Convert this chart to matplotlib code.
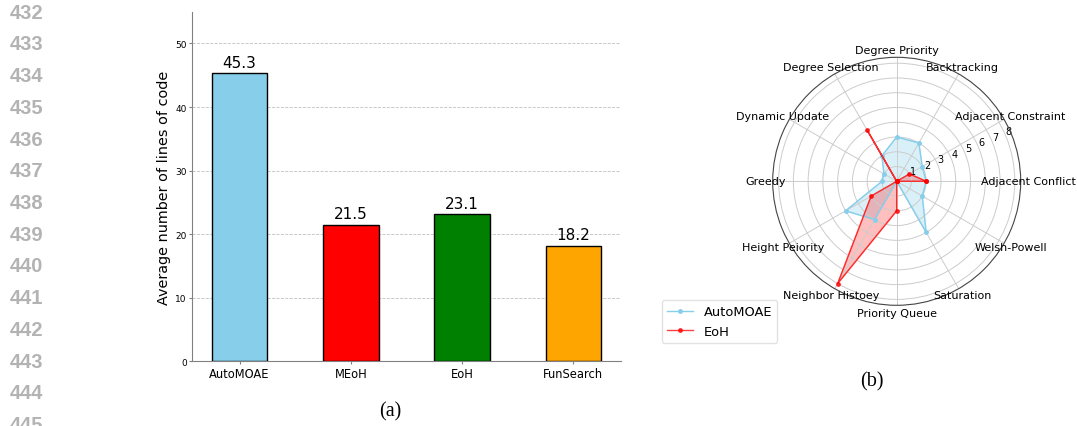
import numpy as np
import matplotlib
matplotlib.use("Agg")
import matplotlib.pyplot as plt

# ---- data -------------------------------------------------------------
methods = ["AutoMOAE", "MEoH", "EoH", "FunSearch"]
avg_lines = [45.3, 21.5, 23.1, 18.2]
bar_colors = ["skyblue", "red", "green", "orange"]

strategies = ["Adjacent Conflict", "Adjacent Constraint", "Backtracking",
              "Degree Priority", "Degree Selection", "Dynamic Update",
              "Greedy", "Height Peiority", "Neighbor Histoey",
              "Priority Queue", "Saturation", "Welsh-Powell"]
automoae_counts = [2, 2, 3, 3, 2, 1, 1, 4, 3, 0, 4, 2]
eoh_counts = [2, 1, 0, 0, 4, 0, 0, 2, 8, 2, 0, 0]

line_numbers = list(range(432, 446))

# ---- figure -----------------------------------------------------------
W, H = 1077, 427
fig = plt.figure(figsize=(W / 100, H / 100), dpi=100)

# page line numbers in the margin
for i, n in enumerate(line_numbers):
    y = 13.3 + i * 31.7
    fig.text(10 / W, 1 - y / H, str(n), ha="left", va="center",
             fontsize=14.5, fontweight="bold", color="#b3b3b3",
             family="Liberation Sans")

# ---- (a) bar chart ----------------------------------------------------
ax = fig.add_axes([192.3 / W, 1 - 362.3 / H, (620.7 - 192.3) / W,
                   (362.3 - 12.7) / H])
x = np.arange(len(methods))
bars = ax.bar(x, avg_lines, width=0.5, color=bar_colors,
              edgecolor="black", linewidth=1.0, zorder=3)
for rect, v in zip(bars, avg_lines):
    ax.text(rect.get_x() + rect.get_width() / 2, v + 0.6, f"{v}",
            ha="center", va="bottom", fontsize=11)
ax.set_xticks(x)
ax.set_xticklabels(methods, fontsize=8.3)
ax.set_ylim(0, 55)
ax.set_yticks(range(0, 51, 10))
ax.tick_params(axis="y", labelsize=6.5, color="#808080", length=2.4, pad=1.5)
ax.tick_params(axis="x", color="#808080", length=2.4, pad=1.5)
ax.set_ylabel("Average number of lines of code", fontsize=10.4, labelpad=3)
ax.grid(axis="y", linestyle="--", linewidth=0.6, color="#b0b0b0", alpha=0.8, zorder=0)
ax.spines["top"].set_visible(False)
ax.spines["right"].set_visible(False)
ax.spines["left"].set_color("#808080")
ax.spines["bottom"].set_color("#808080")

fig.text(390 / W, 1 - 411.7 / H, "(a)", ha="center", va="center",
         fontsize=14.5, family="Liberation Serif")

# ---- (b) radar chart --------------------------------------------------
cx, cy, R = 896.7, 182.3, 124
rmax = 8.4
pax = fig.add_axes([(cx - R) / W, 1 - (cy + R) / H, 2 * R / W, 2 * R / H],
                   projection="polar")
angles = np.linspace(0, 2 * np.pi, len(strategies), endpoint=False)
ang_c = np.concatenate([angles, angles[:1]])
a_c = np.concatenate([automoae_counts, automoae_counts[:1]])
e_c = np.concatenate([eoh_counts, eoh_counts[:1]])

pax.plot(ang_c, a_c, "o-", color="skyblue", linewidth=1.0, markersize=2.5,
         label="AutoMOAE")
pax.fill(ang_c, a_c, color="skyblue", alpha=0.3)
pax.plot(ang_c, e_c, "o-", color="red", linewidth=1.0, markersize=2.5,
         alpha=0.75, label="EoH")
pax.fill(ang_c, e_c, color="red", alpha=0.25)

pax.set_xticks(angles)
pax.set_xticklabels([])
# category names centred just beyond the outer ring
label_r = rmax * 131.5 / R
for ang, name in zip(angles, strategies):
    pax.text(ang, label_r, name, ha="center", va="center", fontsize=8,
             clip_on=False)
pax.set_ylim(0, rmax)
pax.set_yticks(range(1, 9))
pax.set_yticklabels([str(i) for i in range(1, 9)], fontsize=7)
pax.set_rlabel_position(22.5)
pax.grid(color="#cccccc", linewidth=0.7)
pax.spines["polar"].set_color("#444444")
pax.spines["polar"].set_linewidth(0.8)

fig.legend(handles=pax.get_lines(), labels=["AutoMOAE", "EoH"],
           loc="upper left", bbox_to_anchor=(661.7 / W, 1 - 301 / H),
           bbox_transform=fig.transFigure, fontsize=9.4,
           borderaxespad=0, framealpha=0.8, edgecolor="#dddddd")

fig.text(871.7 / W, 1 - 381.7 / H, "(b)", ha="center", va="center",
         fontsize=14.5, family="Liberation Serif")

fig.savefig("out.png", dpi=100)
